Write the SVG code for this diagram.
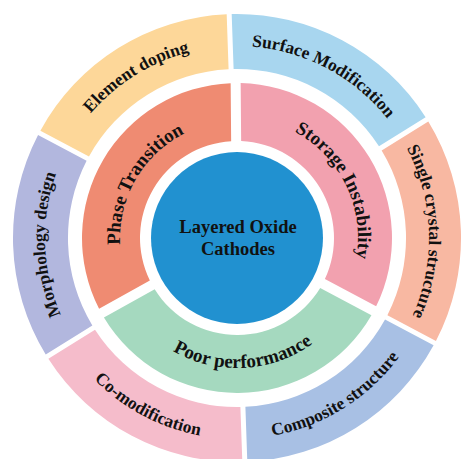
<svg xmlns="http://www.w3.org/2000/svg" xmlns:xlink="http://www.w3.org/1999/xlink" width="462" height="459" viewBox="0 0 462 459">
  <style>
    .lbl { font-family: "Liberation Serif", "Times New Roman", serif; font-weight: bold; fill: #111; }
    .outer { font-size: 17.5px; }
    .inner { font-size: 19px; }
    .core { font-size: 18.5px; text-anchor: middle; }
  </style>
  <defs>
    <path id="cwOuter" d="M45.73,221.27 A192,192 0 0 1 428.27,221.27"/>
    <path id="ccwOuter" d="M36.77,255.52 A201,201 0 0 0 437.23,255.52"/>
    <path id="cwPhase" d="M120.45,227.80 A117,117 0 0 1 353.55,227.80"/>
    <path id="cwStorage" d="M116.46,227.45 A121,121 0 0 1 357.54,227.45"/>
    <path id="ccwPoor" d="M107.50,249.33 A130,130 0 0 0 366.50,249.33"/>
  </defs>
  <rect width="462" height="459" fill="#ffffff"/>

  <g id="element-doping">
    <path d="M40.40,130.63 A224,224 0 0 1 226.68,14.24 L228.60,69.21 A169,169 0 0 0 88.97,156.45 Z" fill="#FDD799"/>
    <text class="lbl outer" transform="rotate(-32 237 238)"><textPath href="#cwOuter" startOffset="50%" text-anchor="middle">Element doping</textPath></text>
  </g>
  <g id="surface-modification">
    <path d="M231.68,14.06 A224,224 0 0 1 425.63,117.18 L378.98,146.33 A169,169 0 0 0 233.61,69.03 Z" fill="#A8D6EF"/>
    <text class="lbl outer" transform="rotate(28 237 238)"><textPath href="#cwOuter" startOffset="50%" text-anchor="middle">Surface Modification</textPath></text>
  </g>
  <g id="single-crystal-structure">
    <path d="M428.29,121.42 A224,224 0 0 1 435.95,340.95 L387.40,315.13 A169,169 0 0 0 381.65,150.57 Z" fill="#F8B8A2"/>
    <text class="lbl outer" transform="rotate(88 237 238)"><textPath href="#cwOuter" startOffset="50%" text-anchor="middle">Single crystal structure</textPath></text>
  </g>
  <g id="composite-structure">
    <path d="M433.60,345.37 A224,224 0 0 1 247.32,461.76 L245.40,406.79 A169,169 0 0 0 385.03,319.55 Z" fill="#A8C0E4"/>
    <text class="lbl outer" transform="rotate(-32 237 238)"><textPath href="#ccwOuter" startOffset="50%" text-anchor="middle">Composite structure</textPath></text>
  </g>
  <g id="co-modification">
    <path d="M242.32,461.94 A224,224 0 0 1 48.37,358.82 L95.02,329.67 A169,169 0 0 0 240.39,406.97 Z" fill="#F5BCCB"/>
    <text class="lbl outer" transform="rotate(28 237 238)"><textPath href="#ccwOuter" startOffset="50%" text-anchor="middle">Co-modification</textPath></text>
  </g>
  <g id="morphology-design">
    <path d="M45.71,354.58 A224,224 0 0 1 38.05,135.05 L86.60,160.87 A169,169 0 0 0 92.35,325.43 Z" fill="#B2B7DE"/>
    <text class="lbl outer" transform="rotate(-92 237 238)"><textPath href="#cwOuter" startOffset="50%" text-anchor="middle">Morphology design</textPath></text>
  </g>

  <g id="phase-transition">
    <path d="M99.08,308.73 A155,155 0 0 1 230.65,83.13 L231.15,141.18 A97,97 0 0 0 149.85,280.59 Z" fill="#EF8B72"/>
    <text class="lbl inner" transform="rotate(-60 237 238)"><textPath href="#cwPhase" startOffset="50%" text-anchor="middle">Phase Transition</textPath></text>
  </g>
  <g id="storage-instability">
    <path d="M240.65,83.04 A155,155 0 0 1 376.13,306.31 L324.88,279.06 A97,97 0 0 0 241.15,141.09 Z" fill="#F2A1AF"/>
    <text class="lbl inner" transform="rotate(64 237 238)"><textPath href="#cwStorage" startOffset="50%" text-anchor="middle">Storage Instability</textPath></text>
  </g>
  <g id="poor-performance">
    <path d="M371.44,315.15 A155,155 0 0 1 103.93,317.48 L154.70,289.34 A97,97 0 0 0 320.18,287.89 Z" fill="#A5D9BF"/>
    <text class="lbl inner" transform="rotate(-3 237 238)"><textPath href="#ccwPoor" startOffset="50%" text-anchor="middle">Poor performance</textPath></text>
  </g>

  <g id="layered-oxide-cathodes">
    <circle cx="237" cy="238" r="86" fill="#2191D0"/>
    <text class="lbl core" x="238" y="233">Layered Oxide</text>
    <text class="lbl core" x="238" y="255">Cathodes</text>
  </g>
</svg>
